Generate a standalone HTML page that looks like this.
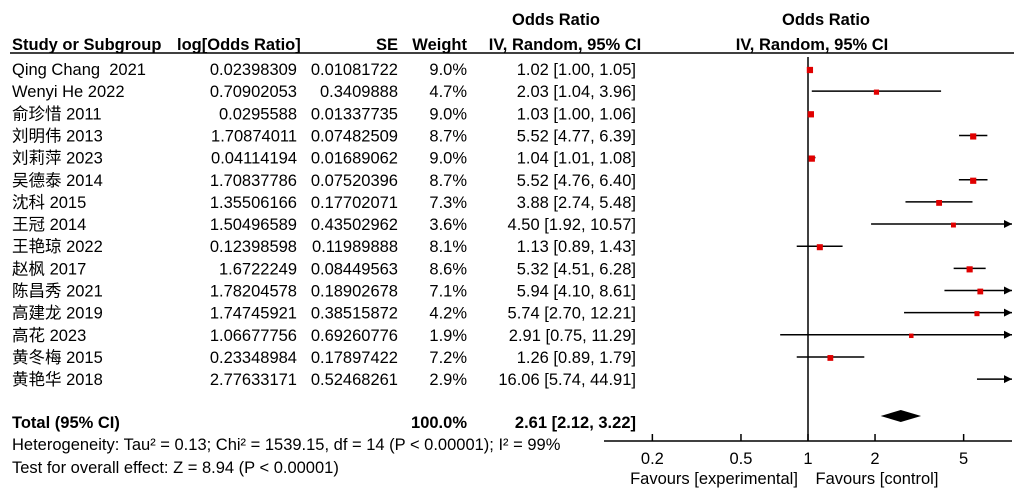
<!DOCTYPE html>
<html><head><meta charset="utf-8"><style>
html,body{margin:0;padding:0;background:#fff;}
svg{display:block;font-family:"Liberation Sans","Noto Sans CJK SC",sans-serif;font-size:16.5px;white-space:pre;}
</style></head><body>
<svg id="c" width="1027" height="500" xmlns="http://www.w3.org/2000/svg">
<g font-weight="bold">
<text x="556" y="25" text-anchor="middle">Odds Ratio</text>
<text x="826" y="25" text-anchor="middle">Odds Ratio</text>
<text x="12" y="50">Study or Subgroup</text>
<text x="177" y="50">log[Odds Ratio]</text>
<text x="398" y="50" text-anchor="end">SE</text>
<text x="467" y="50" text-anchor="end">Weight</text>
<text x="565" y="50" text-anchor="middle">IV, Random, 95% CI</text>
<text x="812" y="50" text-anchor="middle">IV, Random, 95% CI</text>
</g>
<line x1="10" y1="53" x2="1014" y2="53" stroke="#000" stroke-width="1.5"/>
<g id="rows"></g>
<g id="plot"></g>
<text x="12" y="428" font-weight="bold">Total (95% CI)</text>
<text x="467" y="428" font-weight="bold" text-anchor="end">100.0%</text>
<text x="636" y="428" font-weight="bold" text-anchor="end">2.61 [2.12, 3.22]</text>
<text x="12" y="450">Heterogeneity: Tau² = 0.13; Chi² = 1539.15, df = 14 (P &lt; 0.00001); I² = 99%</text>
<text x="12" y="473">Test for overall effect: Z = 8.94 (P &lt; 0.00001)</text>
<text x="714" y="484" text-anchor="middle">Favours [experimental]</text>
<text x="877" y="484" text-anchor="middle">Favours [control]</text>
</svg>
<script>
const studies=["Qing Chang\u00a0 2021","Wenyi He 2022","俞珍惜 2011","刘明伟 2013","刘莉萍 2023","吴德泰 2014","沈科 2015","王冠 2014","王艳琼 2022","赵枫 2017","陈昌秀 2021","高建龙 2019","高花 2023","黄冬梅 2015","黄艳华 2018"];
const logOR=["0.02398309","0.70902053","0.0295588","1.70874011","0.04114194","1.70837786","1.35506166","1.50496589","0.12398598","1.6722249","1.78204578","1.74745921","1.06677756","0.23348984","2.77633171"];
const seVals=["0.01081722","0.3409888","0.01337735","0.07482509","0.01689062","0.07520396","0.17702071","0.43502962","0.11989888","0.08449563","0.18902678","0.38515872","0.69260776","0.17897422","0.52468261"];
const weights=[9.0,4.7,9.0,8.7,9.0,8.7,7.3,3.6,8.1,8.6,7.1,4.2,1.9,7.2,2.9];
const orVals=[1.02,2.03,1.03,5.52,1.04,5.52,3.88,4.50,1.13,5.32,5.94,5.74,2.91,1.26,16.06];
const ciLow=[1.00,1.04,1.00,4.77,1.01,4.76,2.74,1.92,0.89,4.51,4.10,2.70,0.75,0.89,5.74];
const ciHigh=[1.05,3.96,1.06,6.39,1.08,6.40,5.48,10.57,1.43,6.28,8.61,12.21,11.29,1.79,44.91];
const totalOR=[2.61,2.12,3.22];
const ticks=[0.2,0.5,1,2,5];
const NS="http://www.w3.org/2000/svg";
const X0=808,K=96.7,XMIN=604,XMAX=1012;
const xs=v=>X0+K*Math.log(v);
const ys=i=>69+i*22.15;
function mk(t,a,p){const e=document.createElementNS(NS,t);for(const k in a)e.setAttribute(k,a[k]);(p||document.getElementById('plot')).appendChild(e);return e;}
const rows=document.getElementById('rows');
const f2=v=>v.toFixed(2);
studies.forEach((s,i)=>{
 const y=ys(i)+6;
 let t=mk('text',{x:12,y:y},rows);t.textContent=s;
 
 
 t=mk('text',{x:297,y:y,'text-anchor':'end'},rows);t.textContent=logOR[i];
 
 
 t=mk('text',{x:398,y:y,'text-anchor':'end'},rows);t.textContent=seVals[i];
 
 
 t=mk('text',{x:467,y:y,'text-anchor':'end'},rows);t.textContent=weights[i].toFixed(1)+'%';
 
 
 t=mk('text',{x:636,y:y,'text-anchor':'end'},rows);t.textContent=f2(orVals[i])+' ['+f2(ciLow[i])+', '+f2(ciHigh[i])+']';
 
 
});
let ax=mk('line',{x1:XMIN,y1:441,x2:XMAX,y2:441,stroke:'#000','stroke-width':1.5});


let nl=mk('line',{x1:X0,y1:57,x2:X0,y2:441,stroke:'#000','stroke-width':1.5});


ticks.forEach(v=>{
 const x=xs(v);
 let l=mk('line',{x1:x,y1:434,x2:x,y2:441,stroke:'#000','stroke-width':1.5});
 
 
 let t=mk('text',{x:x,y:464,'text-anchor':'middle'});t.textContent=String(v);
 
 
});
studies.forEach((s,i)=>{
 const y=ys(i);
 const a=Math.max(XMIN,xs(ciLow[i])),bRaw=xs(ciHigh[i]),b=Math.min(XMAX,bRaw);
 let l=mk('line',{x1:a,y1:y,x2:b,y2:y,stroke:'#000','stroke-width':1.5});
 
 
 if(bRaw>XMAX){
  let h=mk('path',{d:`M${XMAX} ${y} l-8 -4 l0 8 z`,fill:'#000'});
  
  
 }
 const cx=xs(orVals[i]);
 if(cx<=XMAX){
  const sz=4+weights[i]*0.25;
  let r=mk('rect',{x:cx-sz/2,y:y-sz/2+1,width:sz,height:sz,fill:'#e00000'});
  
  
 }
});
const ty=416;
let d=mk('path',{d:`M${xs(totalOR[1])} ${ty} L${xs(totalOR[0])} ${ty-6} L${xs(totalOR[2])} ${ty} L${xs(totalOR[0])} ${ty+6} Z`,fill:'#000'});


</script>
</body></html>
